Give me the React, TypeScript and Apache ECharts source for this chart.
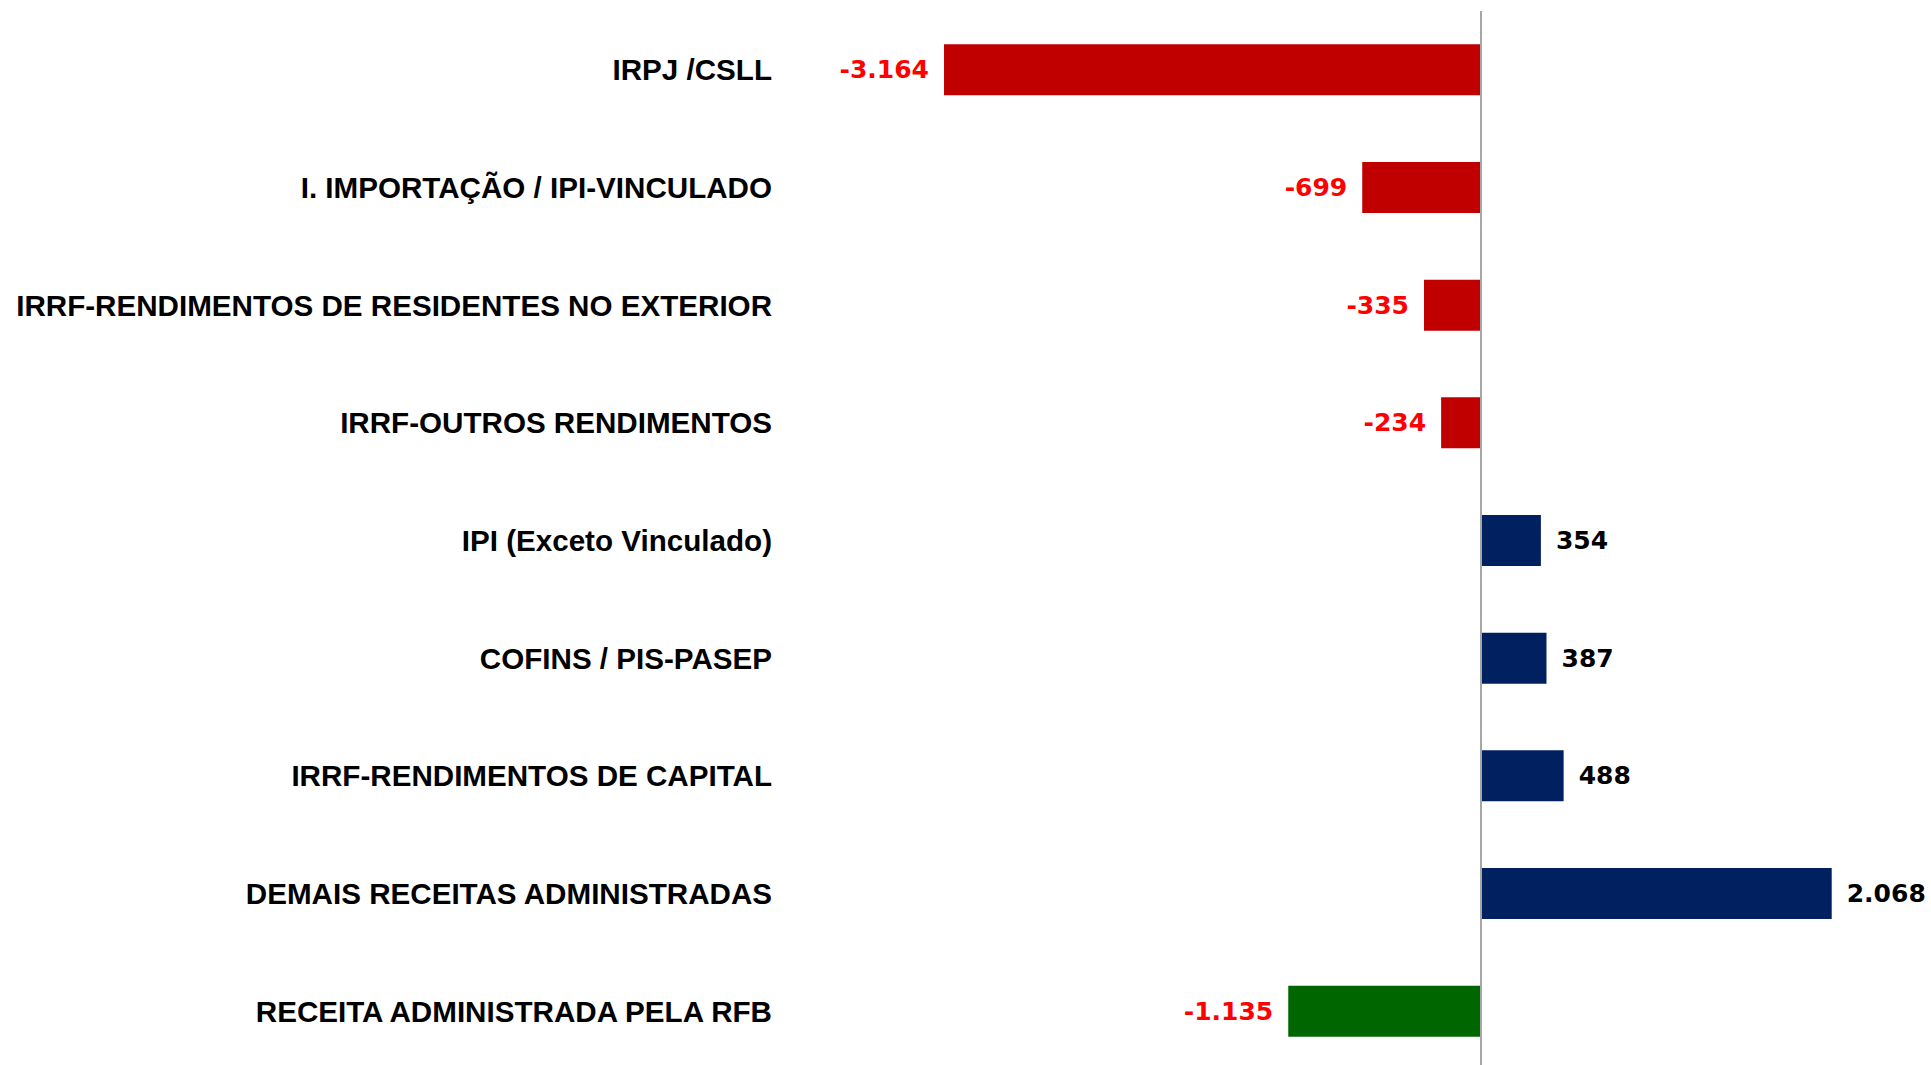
import React, { useEffect, useRef } from "react";
import * as echarts from "echarts";

const categories = [
  "IRPJ /CSLL",
  "I. IMPORTAÇÃO / IPI-VINCULADO",
  "IRRF-RENDIMENTOS DE RESIDENTES NO EXTERIOR",
  "IRRF-OUTROS RENDIMENTOS",
  "IPI (Exceto Vinculado)",
  "COFINS / PIS-PASEP",
  "IRRF-RENDIMENTOS DE CAPITAL",
  "DEMAIS RECEITAS ADMINISTRADAS",
  "RECEITA ADMINISTRADA PELA RFB",
];
const values = [-3164, -699, -335, -234, 354, 387, 488, 2068, -1135];
const barColors = [
  "#C00000", "#C00000", "#C00000", "#C00000",
  "#002060", "#002060", "#002060", "#002060",
  "#006600",
];

function fmt(v: number): string {
  const s = Math.abs(v).toString().replace(/\B(?=(\d{3})+(?!\d))/g, ".");
  return (v < 0 ? "-" : "") + s;
}

export default function App() {
  const ref = useRef<HTMLDivElement>(null);
  useEffect(() => {
    if (!ref.current) return;
    const chart = echarts.init(ref.current, null, { renderer: "svg" });
    chart.setOption({
      animation: false,
      backgroundColor: "#ffffff",
      grid: {
        left: 887,
        top: 11,
        width: 1018,
        height: 1059,
        containLabel: false,
        outerBoundsMode: "none",
      },
      xAxis: {
        type: "value",
        min: -3500,
        max: 2500,
        show: false,
        splitLine: { show: false },
      },
      yAxis: {
        type: "category",
        data: categories,
        inverse: true,
        axisLine: { show: false },
        axisTick: { show: false },
        axisLabel: {
          margin: 115,
          color: "#000000",
          fontFamily: "'Liberation Sans', Arial, sans-serif",
          fontWeight: "bold",
          fontSize: 29.6,
        },
      },
      series: [
        {
          type: "bar",
          barWidth: 51,
          data: values.map((v, i) => ({
            value: v,
            itemStyle: { color: barColors[i] },
            label: {
              show: true,
              position: v < 0 ? "left" : "right",
              distance: 15,
              formatter: () => fmt(v),
              color: v < 0 ? "#FF0000" : "#000000",
              fontFamily: "'DejaVu Sans', Verdana, sans-serif",
              fontWeight: "bold",
              fontSize: 25,
            },
          })),
          markLine: {
            silent: true,
            symbol: "none",
            label: { show: false },
            lineStyle: { color: "#A6A6A6", width: 2, type: "solid" },
            data: [{ xAxis: 0 }],
          },
        },
      ],
    });
    return () => chart.dispose();
  }, []);
  return (
    <div
      ref={ref}
      style={{ position: "fixed", left: 0, top: 0, width: 1931, height: 1065 }}
    />
  );
}
